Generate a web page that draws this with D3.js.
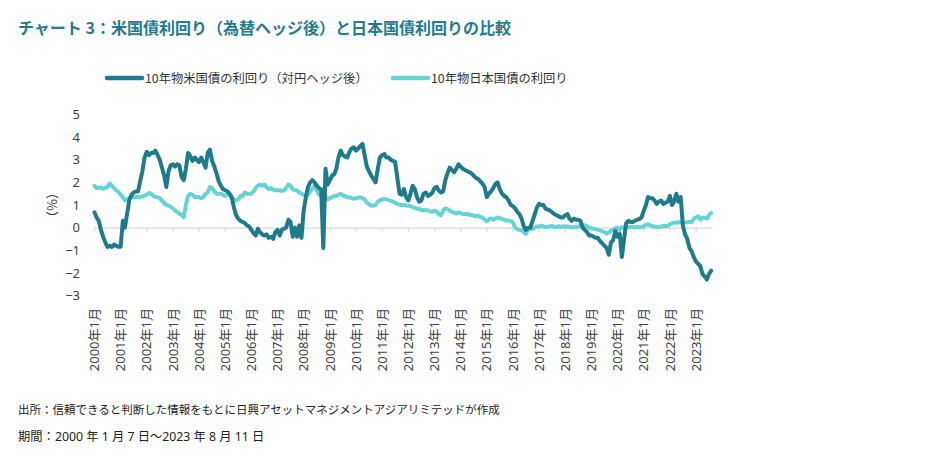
<!DOCTYPE html>
<html><head><meta charset="utf-8">
<script src="https://cdn.jsdelivr.net/npm/d3@7"></script>
<style>
body{margin:0;background:#fff}
svg{display:block}
text{font-family:"Noto Sans CJK JP","Noto Sans",sans-serif}
</style>
</head><body>
<svg id="chart" width="945" height="462"></svg>
<script>
const chartTitle = "チャート 3：米国債利回り（為替ヘッジ後）と日本国債利回りの比較";
const seriesNames = ["10年物米国債の利回り（対円ヘッジ後）", "10年物日本国債の利回り"];
const yAxisLabel = "（%）";
const footnotes = [
  "出所：信頼できると判断した情報をもとに日興アセットマネジメントアジアリミテッドが作成",
  "期間：2000 年 1 月 7 日～2023 年 8 月 11 日"
];
const firstYear = 2000;
const lastYear = 2023;
const yTickValues = [5, 4, 3, 2, 1, 0, -1, -2, -3];
const xTickYears = d3.range(firstYear, lastYear + 1);
const xTickLabels = xTickYears.map(y => y + "年1月");

// monthly readings, Jan 2000 .. Aug 2023
const usHedged = [
  0.68, 0.45, 0.3, -0.1, -0.4, -0.65, -0.85, -0.8, -0.85, -0.75, -0.8, -0.85,
  -0.85, 0.3, 0.0, 0.6, 1.2, 1.45, 1.55, 1.6, 1.6, 2.05, 2.5, 3.1,
  3.35, 3.2, 3.3, 3.3, 3.4, 3.2, 3.0, 2.65, 2.3, 1.8, 2.5, 2.75,
  2.8, 2.7, 2.8, 2.75, 2.25, 2.1, 2.6, 3.3, 3.15, 2.95, 3.1, 3.0,
  2.9, 3.1, 2.9, 2.65, 3.3, 3.45, 2.95, 2.7, 2.4, 2.05, 1.85, 1.7,
  1.65, 1.6, 1.5, 1.35, 0.9, 0.55, 0.4, 0.3, 0.25, 0.2, 0.1, 0.05,
  -0.1, -0.25, -0.35, -0.05, -0.2, -0.3, -0.35, -0.3, -0.45, -0.4, -0.5, -0.2,
  -0.1, -0.35, -0.1, -0.05, 0.0, 0.35, 0.25, -0.4, 0.0, -0.4, 0.1, -0.45,
  0.75, 1.35, 1.8, 2.0, 2.1, 2.0, 1.85, 1.75, 1.7, -0.9, 2.6, 1.9,
  2.1, 2.3, 2.35, 2.6, 3.1, 3.4, 3.2, 3.15, 3.1, 3.35, 3.5, 3.55,
  3.4, 3.5, 3.6, 3.7, 3.2, 2.7, 2.5, 2.3, 2.15, 2.0, 2.6, 3.1,
  3.2, 3.25, 3.1, 3.1, 3.0, 2.95, 2.9, 2.2, 1.5, 1.45, 1.7, 1.35,
  1.2, 1.5, 1.85, 1.7, 1.35, 1.15, 1.2, 1.5, 1.55, 1.4, 1.45, 1.55,
  1.75, 1.8, 1.65, 1.55, 1.6, 2.1, 2.4, 2.65, 2.55, 2.45, 2.6, 2.8,
  2.7, 2.6, 2.55, 2.5, 2.45, 2.4, 2.3, 2.2, 2.15, 2.05, 1.95, 1.8,
  1.35, 1.5, 1.6, 1.75, 1.93, 2.0, 1.7, 1.5, 1.4, 1.34, 1.2, 1.0,
  0.95, 0.85, 0.7, 0.6, 0.4, 0.05, -0.1, 0.0, 0.0, 0.3, 0.6, 0.9,
  1.05, 1.0, 1.0, 0.83, 0.8, 0.75, 0.68, 0.6, 0.55, 0.5, 0.45, 0.45,
  0.55, 0.6, 0.4, 0.3, 0.4, 0.35, 0.35, 0.3, 0.0, -0.1, -0.2, -0.35,
  -0.35, -0.4, -0.45, -0.45, -0.6, -0.7, -0.8, -0.9, -1.2, -0.65, -0.55, -0.15,
  -0.4, -0.28, -1.3, -0.5, 0.2, 0.3, 0.25, 0.25, 0.3, 0.35, 0.38, 0.45,
  0.75, 1.0, 1.35, 1.3, 1.3, 1.2, 1.05, 1.15, 1.2, 1.05, 1.1, 1.15,
  1.4, 1.0, 1.15, 1.5, 1.15, 1.35, 0.1, -0.3, -0.5, -0.9, -1.05, -1.3,
  -1.5, -1.6, -1.7, -2.05, -2.15, -2.3, -2.05, -1.9
];
const jgb = [
  1.85, 1.75, 1.75, 1.78, 1.72, 1.75, 1.8, 1.95, 1.85, 1.75, 1.65, 1.57,
  1.45, 1.35, 1.2, 1.25, 1.3, 1.35, 1.35, 1.35, 1.35, 1.35, 1.38, 1.42,
  1.45, 1.53, 1.5, 1.4, 1.35, 1.34, 1.3, 1.2, 1.1, 1.0, 0.97, 0.92,
  0.85, 0.75, 0.7, 0.62, 0.58, 0.45, 1.0, 1.4, 1.5, 1.45, 1.35, 1.35,
  1.35, 1.3, 1.35, 1.5, 1.55, 1.8, 1.75, 1.6, 1.5, 1.5, 1.5, 1.45,
  1.4, 1.45, 1.45, 1.3, 1.25, 1.2, 1.25, 1.4, 1.4, 1.55, 1.5, 1.5,
  1.5, 1.6, 1.75, 1.85, 1.9, 1.85, 1.9, 1.78, 1.7, 1.75, 1.68, 1.65,
  1.65, 1.65, 1.62, 1.65, 1.75, 1.9, 1.85, 1.7, 1.65, 1.65, 1.55, 1.5,
  1.45, 1.4, 1.45, 1.6, 1.75, 1.85, 1.65, 1.45, 1.48, 1.45, 1.4, 1.25,
  1.3, 1.35, 1.4, 1.4, 1.45, 1.5, 1.42, 1.4, 1.34, 1.34, 1.3, 1.27,
  1.3, 1.32, 1.34, 1.3, 1.25, 1.1, 1.05, 0.97, 0.97, 1.0, 1.15, 1.2,
  1.25, 1.27, 1.25, 1.22, 1.18, 1.15, 1.1, 1.05, 1.02, 1.0, 1.0, 0.98,
  0.97, 0.95, 0.9, 0.88, 0.83, 0.83, 0.77, 0.78, 0.77, 0.77, 0.72, 0.7,
  0.75, 0.7, 0.6, 0.55, 0.75, 0.85, 0.82, 0.75, 0.7, 0.65, 0.62, 0.68,
  0.65, 0.6, 0.6, 0.6, 0.58, 0.56, 0.53, 0.5, 0.53, 0.47, 0.45, 0.35,
  0.28, 0.38, 0.4, 0.35, 0.4, 0.45, 0.42, 0.38, 0.35, 0.31, 0.31, 0.28,
  0.22, 0.0, -0.06, -0.1, -0.12, -0.2, -0.28, -0.06, -0.06, -0.05, 0.0, 0.05,
  0.05, 0.08, 0.06, 0.02, 0.04, 0.06, 0.07, 0.03, 0.03, 0.06, 0.04, 0.05,
  0.06, 0.05, 0.03, 0.02, 0.03, 0.03, 0.05, 0.08, 0.1, 0.1, 0.06, -0.02,
  -0.02, -0.05, -0.07, -0.1, -0.12, -0.16, -0.2, -0.27, -0.22, -0.14, -0.08, -0.03,
  0.0, -0.1, 0.02, 0.02, 0.0, 0.02, 0.03, 0.04, 0.02, 0.04, 0.03, 0.02,
  0.05, 0.12, 0.15, 0.1, 0.08, 0.05, 0.03, 0.03, 0.05, 0.08, 0.07, 0.07,
  0.15, 0.2, 0.22, 0.23, 0.24, 0.23, 0.2, 0.22, 0.24, 0.25, 0.25, 0.4,
  0.45, 0.5, 0.35, 0.45, 0.43, 0.4, 0.55, 0.65
];
const colors = ["#1d7b8c", "#66d3d6"];

const dates = usHedged.map((_, i) => new Date(firstYear, i, 7));

const svg = d3.select("#chart");
const x = d3.scaleTime()
  .domain([new Date(2000, 0, 1), new Date(2023, 7, 11)])
  .range([94, 711.5]);
const y = d3.scaleLinear().domain([-3, 5]).range([295.5, 114.5]);

const latinFirst = "'Noto Sans','Noto Sans CJK JP',sans-serif";

// title
svg.append("text").attr("x", 18).attr("y", 34)
  .attr("fill", "#237b8d").attr("font-size", 16).attr("font-weight", "bold")
  .text(chartTitle);

// legend
const legendX = [107, 393];
seriesNames.forEach((n, i) => {
  svg.append("line").attr("x1", legendX[i]).attr("x2", legendX[i] + 35)
    .attr("y1", 78).attr("y2", 78)
    .attr("stroke", colors[i]).attr("stroke-width", 4.5).attr("stroke-linecap", "round");
  svg.append("text").attr("x", legendX[i] + 38).attr("y", 82.5)
    .attr("font-size", 12.3).attr("fill", "#333").text(n);
});

// y axis
const yAxis = svg.append("g").attr("transform", "translate(83,0)")
  .call(d3.axisLeft(y).tickValues(yTickValues).tickSize(0).tickPadding(3).tickFormat(d3.format("d")));
yAxis.select(".domain").remove();
yAxis.selectAll("text").attr("font-size", 13).attr("fill", "#404040")
  .style("font-family", latinFirst);

svg.append("text").attr("transform", "translate(52,205) rotate(-90)")
  .attr("text-anchor", "middle").attr("dy", "0.35em")
  .attr("font-size", 13).attr("fill", "#404040").text(yAxisLabel);

// zero axis with ticks
const tickDates = xTickYears.map(yr => new Date(yr, 0, 1));
const zeroAxis = svg.append("g").attr("transform", `translate(0,${y(0)})`)
  .call(d3.axisBottom(x).tickValues(tickDates).tickSize(4).tickSizeOuter(0).tickFormat(""));
zeroAxis.selectAll("path,line").attr("stroke", "#d9d9d9").attr("stroke-width", 1.2);

// bottom labels
const labelAxis = svg.append("g").attr("transform", "translate(0,308)")
  .call(d3.axisBottom(x).tickValues(tickDates).tickSize(0).tickFormat((d, i) => xTickLabels[i]));
labelAxis.select(".domain").remove();
labelAxis.selectAll("text")
  .attr("x", 0).attr("y", 0).attr("dy", "0.35em")
  .attr("transform", "rotate(-90)")
  .style("text-anchor", "end")
  .style("font-family", latinFirst)
  .attr("font-size", 13).attr("fill", "#404040");

// lines
const line = d3.line().x((d, i) => x(dates[i])).y(d => y(d)).curve(d3.curveLinear);
[jgb, usHedged].forEach((s, k) => {
  svg.append("path").datum(s).attr("d", line)
    .attr("fill", "none").attr("stroke", k === 0 ? colors[1] : colors[0])
    .attr("stroke-width", 4).attr("stroke-linejoin", "round").attr("stroke-linecap", "round");
});

// footnotes
const footSizes = [11.5, 12.3];
footnotes.forEach((t, i) => {
  svg.append("text").attr("x", 18).attr("y", 414 + i * 27)
    .attr("font-size", footSizes[i]).attr("fill", "#222")
    .style("font-family", i === 1 ? latinFirst : null)
    .text(t);
});
</script>
</body></html>
